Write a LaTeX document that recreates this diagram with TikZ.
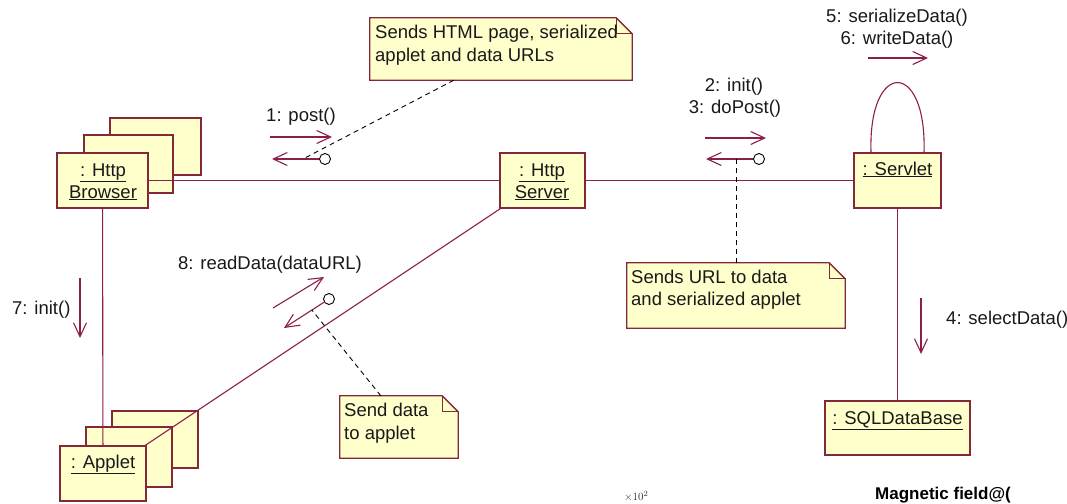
\documentclass[tikz,border=0pt]{standalone}
\usepackage{fontspec}
\setmainfont{Liberation Sans}
\usetikzlibrary{arrows.meta,calc}
\definecolor{umlline}{RGB}{140,30,75}
\definecolor{umlborder}{RGB}{130,40,55}
\definecolor{umlfill}{RGB}{255,255,204}
\pgfdeclarelayer{bg}
\pgfdeclarelayer{stack}
\pgfdeclarelayer{links}
\pgfsetlayers{bg,stack,links,main}

\tikzset{
  objbox/.style={draw=umlborder, fill=umlfill, line width=1.3pt, inner sep=0pt},
  stackbox/.style={draw=umlborder, fill=umlfill, line width=1.3pt},
  link/.style={draw=umlline, line width=1.1pt},
  msg/.style={draw=umlline, line width=1.1pt, -{Straight Barb[length=14pt,width=13pt,line width=1.1pt]}},
  knob/.style={circle, draw=black, fill=white, line width=0.9pt, minimum size=11pt, inner sep=0pt},
  anchorline/.style={draw=black, line width=0.9pt, dash pattern=on 5pt off 4pt},
  notebox/.style={inner sep=0pt, draw=none},
  notefill/.style={draw=umlborder, fill=umlfill, line width=1.3pt, line join=miter},
  txt/.style={inner sep=0pt, font=\fontsize{18.5}{22}\selectfont, text=black!90},
}

\begin{document}
\begin{tikzpicture}[x=1pt,y=-1pt]
\useasboundingbox (0,0) rectangle (1067,503);
\begin{pgfonlayer}{bg}
  \fill[white] (0,0) rectangle (1067,503);
\end{pgfonlayer}

% ---------- objects ----------
\node[objbox, minimum width=91pt, minimum height=55pt] (browser) at (102.5,180.5) {};
\node[txt, anchor=base] (browserA) at (103,176) {\underline{: Http}};
\node[txt, anchor=base] (browserB) at (103,198) {\underline{Browser}};

\node[objbox, minimum width=85pt, minimum height=55pt] (server) at (542.5,180.5) {};
\node[txt, anchor=base] (serverA) at (542,176) {\underline{: Http}};
\node[txt, anchor=base] (serverB) at (542,198) {\underline{Server}};

\node[objbox, minimum width=87pt, minimum height=55pt] (servlet) at (897.5,180.5) {};
\node[txt, anchor=base] (servletA) at (897.5,175) {\underline{: Servlet}};

\node[objbox, minimum width=86pt, minimum height=55pt] (applet) at (103,473.5) {};
\node[txt, anchor=base] (appletA) at (103,468) {\underline{: Applet}};

\node[objbox, minimum width=145pt, minimum height=54pt] (db) at (897.5,428) {};
\node[txt, anchor=base] (dbA) at (897.5,424) {\underline{: SQLDataBase}};

% multi-object stacks behind the front boxes
\begin{pgfonlayer}{stack}
  \draw[stackbox] (110,118) rectangle (201,175);
  \draw[stackbox] (84,135) rectangle (173,193);
  \draw[stackbox] (112,411) rectangle (198,468);
  \draw[stackbox] (86,427) rectangle (172,487);
\end{pgfonlayer}

% ---------- links ----------
\begin{pgfonlayer}{links}
  \draw[link] (browser.center) -- (server.center);
  \draw[link] (server.center) -- (servlet.center);
  \draw[link] (browser.center) -- (applet.center);
  \draw[link] (applet.center) -- (server.center);
  \draw[link] (servlet.center) -- (db.center);
\end{pgfonlayer}
\draw[link] ($(servlet.north)+(-26.5,0)$) .. controls +(-3,-93) and +(3,-93) .. ($(servlet.north)+(26.5,0)$);

% ---------- messages ----------
% 1: post()
\node[txt, anchor=base] (m1) at (301,121) {1: post()};
\coordinate (m1a) at (270,137); \coordinate (m1b) at (332,137);
\draw[msg] (m1a) -- (m1b);
\node[knob] (k1) at (325,159) {};
\coordinate (r1) at (272,159);
\draw[msg] (k1.west) -- (r1);

% 2: init()  3: doPost()
\node[txt, anchor=base] (m2) at (734,91) {2: init()};
\node[txt, anchor=base] (m3) at (735,113) {3: doPost()};
\coordinate (m3a) at (705,138); \coordinate (m3b) at (766,138);
\draw[msg] (m3a) -- (m3b);
\node[knob] (k3) at (759,159) {};
\coordinate (r3) at (706,159);
\draw[msg] (k3.west) -- (r3);

% 5: serializeData()  6: writeData()
\node[txt, anchor=base] (m5) at (897,23) {5: serializeData()};
\node[txt, anchor=base] (m6) at (897,45) {6: writeData()};
\coordinate (m5a) at (868,58); \coordinate (m5b) at (928,58);
\draw[msg] (m5a) -- (m5b);

% 4: selectData()
\node[txt, anchor=base west] (m4) at (946,324) {4: selectData()};
\coordinate (m4a) at (921,298); \coordinate (m4b) at (921,354);
\draw[msg] (m4a) -- (m4b);

% 7: init()
\node[txt, anchor=base west] (m7) at (12,314) {7: init()};
\coordinate (m7a) at (80,278); \coordinate (m7b) at (80,338);
\draw[msg] (m7a) -- (m7b);

% 8: readData(dataURL)
\node[txt, anchor=base] (m8) at (270,269) {8: readData(dataURL)};
\coordinate (m8a) at (273,308); \coordinate (m8b) at (324,277);
\draw[msg] (m8a) -- (m8b);
\node[knob] (k8) at (329,299) {};
\coordinate (r8) at (284,328);
\draw[msg] (k8) -- (r8);

% ---------- notes ----------
% note near post()
\node[notebox, minimum width=262pt, minimum height=62pt] (n1) at (501,49) {};
\filldraw[notefill] (n1.north west) -- ($(n1.north east)+(-16,0)$) -- ($(n1.north east)+(0,16)$) -- (n1.south east) -- (n1.south west) -- cycle;
\draw[notefill, fill=none] ($(n1.north east)+(-16,0)$) -- ($(n1.north east)+(-16,16)$) -- ($(n1.north east)+(0,16)$);
\node[txt, anchor=base west] (n1a) at (375,38) {Sends HTML page, serialized};
\node[txt, anchor=base west] (n1b) at (375,61) {applet and data URLs};
\coordinate (n1end) at (303,159);
\draw[anchorline] ($(n1.south west)+(84,0)$) -- (n1end);

% note near doPost()
\node[notebox, minimum width=218pt, minimum height=65pt] (n2) at (736,295.5) {};
\filldraw[notefill] (n2.north west) -- ($(n2.north east)+(-16,0)$) -- ($(n2.north east)+(0,16)$) -- (n2.south east) -- (n2.south west) -- cycle;
\draw[notefill, fill=none] ($(n2.north east)+(-16,0)$) -- ($(n2.north east)+(-16,16)$) -- ($(n2.north east)+(0,16)$);
\node[txt, anchor=base west] (n2a) at (631,283) {Sends URL to data};
\node[txt, anchor=base west] (n2b) at (631,305) {and serialized applet};
\draw[anchorline] (n2.north) -- (n2.north |- r3);

% note near readData()
\node[notebox, minimum width=118pt, minimum height=62pt] (n3) at (399,427) {};
\filldraw[notefill] (n3.north west) -- ($(n3.north east)+(-16,0)$) -- ($(n3.north east)+(0,16)$) -- (n3.south east) -- (n3.south west) -- cycle;
\draw[notefill, fill=none] ($(n3.north east)+(-16,0)$) -- ($(n3.north east)+(-16,16)$) -- ($(n3.north east)+(0,16)$);
\node[txt, anchor=base west] (n3a) at (344,416) {Send data};
\node[txt, anchor=base west] (n3b) at (344,439) {to applet};
\draw[anchorline] ($(n3.north west)+(41,0)$) -- ($(k8)!0.38!(r8)$);

% ---------- small texts along the lower edge ----------
\node[inner sep=0pt, anchor=base west, font=\fontsize{11}{13}\selectfont, text=black!80] (axis) at (624,500) {$\times10^{2}$};
\node[inner sep=0pt, anchor=base west, font=\bfseries\fontsize{17}{20}\selectfont] (mag) at (875,499) {Magnetic field@(};
\end{tikzpicture}
\end{document}
